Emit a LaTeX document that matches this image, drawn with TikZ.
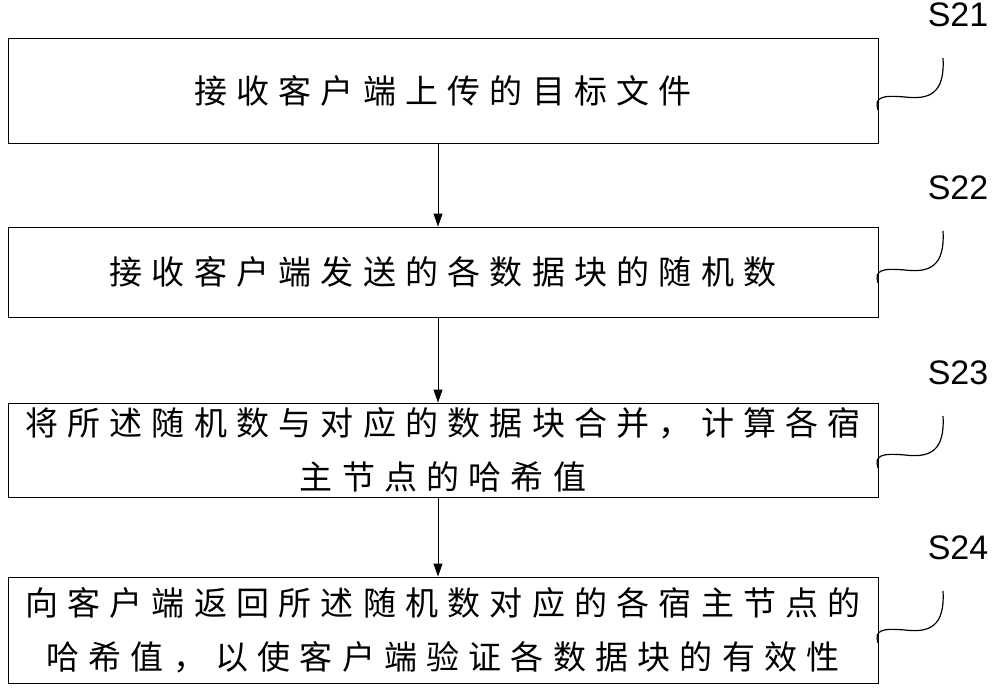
\documentclass[tikz,border=0pt]{standalone}
\usepackage{fontspec}
\setmainfont{Liberation Sans}
\newfontfamily\cjk[LetterSpace=28]{Noto Sans CJK SC}
\usetikzlibrary{arrows.meta}

\tikzset{
  stepbox/.style={draw, line width=0.9pt, minimum width=870pt, inner sep=0pt,
    align=center, font=\cjk\fontsize{33}{54}\selectfont},
  flow/.style={draw, line width=0.9pt, -{Triangle[length=13pt,width=9pt]}},
  tag/.style={font=\fontsize{34}{34}\selectfont},
  curl/.style={draw, line width=1.2pt}
}

\begin{document}
\begin{tikzpicture}[x=1pt,y=-1pt]
\useasboundingbox (0,0) rectangle (1000,689);

% boxes
\node[stepbox, minimum height=105pt] (b1) at (443,90.5) {接收客户端上传的目标文件};
\node[stepbox, minimum height=90pt] (b2) at (443,272) {接收客户端发送的各数据块的随机数};
\node[stepbox, minimum height=94pt] (b3) at (443,450) {将所述随机数与对应的数据块合并，计算各宿\\主节点的哈希值};
\node[stepbox, minimum height=106pt] (b4) at (443,630) {向客户端返回所述随机数对应的各宿主节点的\\哈希值，以使客户端验证各数据块的有效性};

% arrows
\draw[flow] (b1.south -| 438,0) -- (b2.north -| 438,0);
\draw[flow] (b2.south -| 438,0) -- (b3.north -| 438,0);
\draw[flow] (b3.south -| 438,0) -- (b4.north -| 438,0);

% step labels
\foreach \n/\y/\t in {1/15/S21, 2/188/S22, 3/373/S23, 4/548/S24}{
  \node[tag] (s\n) at (958,\y) {\t};
  \coordinate (c\n) at (943,\y+43);
  \draw[curl] (878,\y+95) .. controls (874,\y+82) and (882,\y+80) .. (905,\y+82)
    .. controls (930,\y+85) and (945,\y+78) .. (c\n);
}
\end{tikzpicture}
\end{document}
